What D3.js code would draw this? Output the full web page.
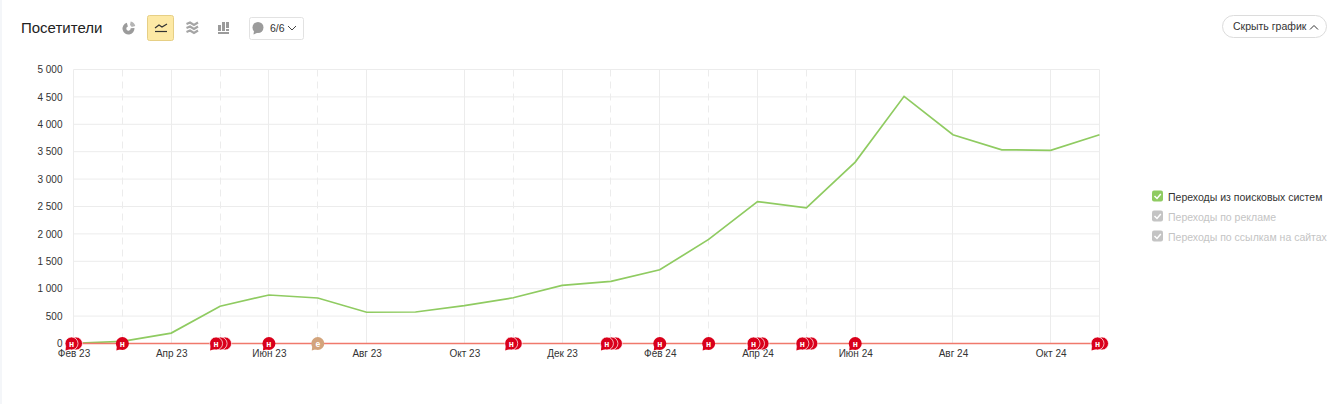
<!DOCTYPE html>
<html>
<head>
<meta charset="utf-8">
<script src="https://cdn.jsdelivr.net/npm/d3@7"></script>
<style>
html, body { margin: 0; padding: 0; background: #fff; overflow: hidden; }
text { font-family: "Liberation Sans", Arial, sans-serif; }
</style>
</head>
<body>
<script>
//chart data
var months = ["Фев 23","Мар 23","Апр 23","Май 23","Июн 23","Июл 23","Авг 23","Сен 23","Окт 23","Ноя 23","Дек 23",
    "Янв 24","Фев 24","Мар 24","Апр 24","Май 24","Июн 24","Июл 24","Авг 24","Сен 24","Окт 24","Ноя 24"];
var visitors = [5, 40, 190, 680, 885, 830, 570, 575, 690, 835, 1060,
    1135, 1345, 1900, 2590, 2475, 3310, 4510, 3810, 3535, 3525, 3810];
var yTicks = [0, 500, 1000, 1500, 2000, 2500, 3000, 3500, 4000, 4500, 5000];
var xLabels = ["Фев 23","Апр 23","Июн 23","Авг 23","Окт 23","Дек 23","Фев 24","Апр 24","Июн 24","Авг 24","Окт 24"];

//note bubbles on the baseline
var noteMonths = ["Фев 23","Мар 23","Май 23","Июн 23","Июл 23","Ноя 23","Янв 24","Фев 24","Мар 24","Апр 24","Май 24","Июн 24","Ноя 24"];
var noteCounts = [2, 1, 3, 1, 1, 2, 3, 1, 1, 3, 3, 1, 2];
var noteLetters = ["н","н","н","н","е","н","н","н","н","н","н","н","н"];

var legendNames = ["Переходы из поисковых систем", "Переходы по рекламе", "Переходы по ссылкам на сайтах"];
var legendActive = [true, false, false];

//begin script when window loads
window.onload = setChart();

function setChart(){
    var width = 1340,
        height = 404;

    var svg = d3.select("body")
        .append("svg")
        .attr("width", width)
        .attr("height", height)
        .style("display", "block");

    //thin page edge on the left
    svg.append("rect").attr("x", 0).attr("y", 0).attr("width", 2).attr("height", height).attr("fill", "#f4f6f9");

    var x = d3.scalePoint().domain(months).range([73.5, 1099.5]);
    var y = d3.scaleLinear().domain([0, 5000]).range([343.5, 69.5]);

    //horizontal grid
    svg.selectAll(".hGrid")
        .data(yTicks)
        .enter()
        .append("line")
        .attr("class", "hGrid")
        .attr("x1", x.range()[0])
        .attr("x2", x.range()[1])
        .attr("y1", function(d){ return y(d); })
        .attr("y2", function(d){ return y(d); })
        .attr("stroke", "#ececec");

    //vertical grid: solid on labelled months and the last one, dashed on other months with notes
    var solidMonths = xLabels.concat(months[months.length - 1]);
    var gridMonths = months.filter(function(d){
        return solidMonths.indexOf(d) >= 0 || noteMonths.indexOf(d) >= 0;
    });
    svg.selectAll(".vGrid")
        .data(gridMonths)
        .enter()
        .append("line")
        .attr("class", "vGrid")
        .attr("x1", function(d){ return Math.floor(x(d)) + 0.5; })
        .attr("x2", function(d){ return Math.floor(x(d)) + 0.5; })
        .attr("y1", y(5000))
        .attr("y2", y(0))
        .attr("stroke", "#ececec")
        .attr("stroke-dasharray", function(d){
            return solidMonths.indexOf(d) >= 0 ? null : "7,5";
        });

    //axes
    var yAxis = d3.axisLeft(y)
        .tickValues(yTicks)
        .tickSize(0)
        .tickPadding(11)
        .tickFormat(function(d){ return d3.format(",")(d).replace(",", " "); });
    var gy = svg.append("g").attr("transform", "translate(73.5,0)").call(yAxis);
    gy.select(".domain").remove();
    gy.selectAll("text").attr("font-size", 10).attr("fill", "#333").style("font-family", "Liberation Sans");

    var xAxis = d3.axisBottom(x)
        .tickValues(xLabels)
        .tickSize(0)
        .tickPadding(6);
    var gx = svg.append("g").attr("transform", "translate(0,343.5)").call(xAxis);
    gx.select(".domain").remove();
    gx.selectAll("text").attr("font-size", 10).attr("fill", "#333").style("font-family", "Liberation Sans");

    //visitors line
    var line = d3.line()
        .x(function(d, i){ return x(months[i]); })
        .y(function(d){ return y(d); });
    svg.append("path")
        .datum(visitors)
        .attr("d", line)
        .attr("fill", "none")
        .attr("stroke", "#8fcb61")
        .attr("stroke-width", 1.7);

    //baseline
    svg.append("line")
        .attr("x1", x.range()[0]).attr("x2", x.range()[1])
        .attr("y1", y(0)).attr("y2", y(0))
        .attr("stroke", "#f0796c")
        .attr("stroke-width", 1.4);

    //note bubbles, back ones first
    noteMonths.forEach(function(m, i){
        var count = noteCounts[i],
            colour = noteLetters[i] == "е" ? "#d3a47c" : "#d9001b",
            start = x(m) - (count - 1) * 2;
        for (var k = count - 1; k >= 0; k--){
            var g = svg.append("g").attr("transform", "translate(" + (start + k * 4.5) + "," + y(0) + ")");
            g.append("circle")
                .attr("r", 6.5)
                .attr("fill", colour)
                .attr("stroke", "#fff")
                .attr("stroke-width", count > 1 ? 0.7 : 0);
            if (k == 0){
                g.append("path").attr("d", "M-5.5,2.5 L-6,7 L-1,5.5 Z").attr("fill", colour);
                g.append("text")
                    .attr("text-anchor", "middle")
                    .attr("y", 3)
                    .attr("font-size", 8.5)
                    .attr("font-weight", "bold")
                    .attr("fill", "#fff")
                    .text(noteLetters[i]);
            }
        }
    });

    drawToolbar(svg);
    drawLegend(svg);
}

//title, view switches and the hide button
function drawToolbar(svg){
    svg.append("text").attr("x", 21).attr("y", 33).attr("font-size", 15).attr("fill", "#222").text("Посетители");

    //pie icon, ring with a wedge pulled out
    svg.append("path")
        .attr("transform", "translate(128.5,28.5)")
        .attr("d", d3.arc().innerRadius(2.2).outerRadius(6).startAngle(1.5).endAngle(6.0)())
        .attr("fill", "#9b9b9b");
    svg.append("path")
        .attr("transform", "translate(129.5,27.5)")
        .attr("d", d3.arc().innerRadius(2.2).outerRadius(6).startAngle(0.2).endAngle(1.3)())
        .attr("fill", "#b5b5b5");

    //active line button
    svg.append("rect").attr("x", 147.5).attr("y", 15.5).attr("width", 26).attr("height", 25).attr("rx", 2)
        .attr("fill", "#fde9a5").attr("stroke", "#e6cf85");
    svg.append("path").attr("d", "M155,28 L159,25 L162,27 L167,24").attr("fill", "none").attr("stroke", "#333").attr("stroke-width", 1.2);
    svg.append("line").attr("x1", 155).attr("x2", 167).attr("y1", 31.5).attr("y2", 31.5).attr("stroke", "#333").attr("stroke-width", 1.2);

    //stacked area icon
    [24, 28, 32].forEach(function(v){
        svg.append("path")
            .attr("d", "M186.5," + v + " L190,"+ (v - 1.5) + " L194,"+ (v + 1) + " L198," + (v - 1.5))
            .attr("fill", "none").attr("stroke", "#a5a5a5").attr("stroke-width", 2.2);
    });

    //stacked bars icon
    svg.append("rect").attr("x", 218).attr("y", 25).attr("width", 3).attr("height", 6).attr("fill", "#9b9b9b");
    svg.append("rect").attr("x", 222).attr("y", 22).attr("width", 3).attr("height", 9).attr("fill", "#9b9b9b");
    svg.append("rect").attr("x", 226).attr("y", 22).attr("width", 3).attr("height", 6).attr("fill", "#9b9b9b");
    svg.append("rect").attr("x", 226).attr("y", 29).attr("width", 3).attr("height", 2).attr("fill", "#9b9b9b");
    svg.append("rect").attr("x", 218).attr("y", 32).attr("width", 11).attr("height", 2).attr("fill", "#9b9b9b");

    //notes dropdown
    svg.append("rect").attr("x", 249.5).attr("y", 17.5).attr("width", 54).attr("height", 22).attr("rx", 2)
        .attr("fill", "#fff").attr("stroke", "#e2e2e2");
    svg.append("circle").attr("cx", 258).attr("cy", 27.5).attr("r", 5.5).attr("fill", "#9b9b9b");
    svg.append("path").attr("d", "M254,31 L253.5,34.5 L258,32.5 Z").attr("fill", "#9b9b9b");
    svg.append("text").attr("x", 270).attr("y", 32).attr("font-size", 10.5).attr("fill", "#333").text("6/6");
    svg.append("path").attr("d", "M288,26 L292,30 L296,26").attr("fill", "none").attr("stroke", "#444");

    //hide chart button
    svg.append("rect").attr("x", 1222.5).attr("y", 15.5).attr("width", 104).attr("height", 22).attr("rx", 11)
        .attr("fill", "#fff").attr("stroke", "#dcdcdc");
    svg.append("text").attr("x", 1233).attr("y", 30).attr("font-size", 10.5).attr("fill", "#333").text("Скрыть график");
    svg.append("path").attr("d", "M1310,29.5 L1314,25.5 L1318,29.5").attr("fill", "none").attr("stroke", "#333");
}

function drawLegend(svg){
    var rows = svg.selectAll(".legendRow")
        .data(legendNames)
        .enter()
        .append("g")
        .attr("class", "legendRow")
        .attr("transform", function(d, i){ return "translate(1152," + (190.5 + i * 20) + ")"; });

    rows.append("rect")
        .attr("width", 11)
        .attr("height", 11)
        .attr("rx", 2)
        .attr("fill", function(d, i){ return legendActive[i] ? "#8fcb61" : "#c4c4c4"; });
    rows.append("path")
        .attr("d", "M2.5,5.5 L5,8 L8.8,3.5")
        .attr("fill", "none")
        .attr("stroke", "#fff")
        .attr("stroke-width", 1.5);
    rows.append("text")
        .attr("x", 16)
        .attr("y", 10)
        .attr("font-size", 10.5)
        .attr("fill", function(d, i){ return legendActive[i] ? "#333" : "#c4c4c4"; })
        .text(function(d){ return d; });
}
</script>
</body>
</html>
